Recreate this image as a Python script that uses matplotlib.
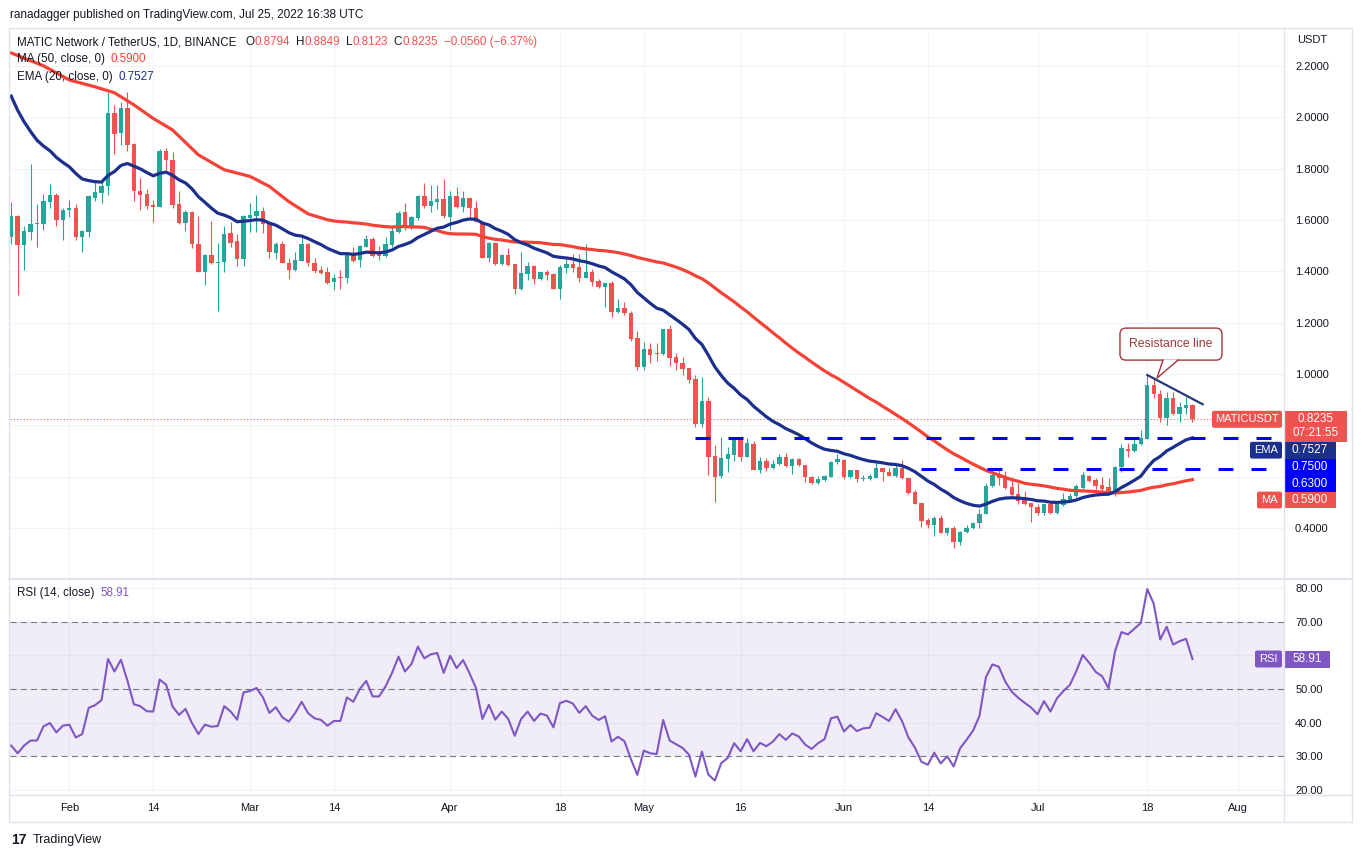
import datetime as dt
import numpy as np
import matplotlib
matplotlib.use("Agg")
import matplotlib.pyplot as plt
import matplotlib.dates as mdates
from matplotlib.patches import Rectangle, FancyBboxPatch, Polygon

W, H = 1362, 857
TXT = "#131722"
GREEN = "#26a69a"
RED = "#ef5350"
MA_COL = "#f44336"
EMA_COL = "#1b2f8c"
RSI_COL = "#7e57c2"
LVL_COL = "#0000ff"
GRID = "#f0f3fa"
BORDER = "#e0e3eb"

# ---- daily candles, MATIC/USDT (Jan 23 .. Jul 25, 2022)
start = dt.date(2022, 1, 23)
opens = [
    1.534, 1.614, 1.502, 1.553, 1.586, 1.583, 1.670, 1.696, 1.599,
    1.640, 1.646, 1.534, 1.553, 1.687, 1.706, 1.734, 2.018, 1.940, 2.036, 1.896, 1.713, 1.700, 1.657,
    1.651, 1.868, 1.833, 1.661, 1.588, 1.630, 1.507, 1.399, 1.462, 1.433, 1.436, 1.550, 1.518, 1.447,
    1.607, 1.616, 1.635, 1.587, 1.472, 1.506, 1.434, 1.407, 1.441, 1.506, 1.434, 1.407, 1.396, 1.358,
    1.377, 1.374, 1.467, 1.446, 1.495, 1.528, 1.469, 1.459, 1.502, 1.554, 1.630, 1.576, 1.607, 1.694,
    1.656, 1.672, 1.681,
    1.613, 1.694, 1.652, 1.685, 1.646, 1.591, 1.453, 1.510, 1.430, 1.464, 1.427, 1.331, 1.389, 1.422,
    1.370, 1.396, 1.389, 1.331, 1.414, 1.427, 1.417, 1.375, 1.396, 1.362, 1.340, 1.353, 1.243, 1.256,
    1.236, 1.139,
    1.028, 1.098, 1.079, 1.077, 1.174, 1.067, 1.044, 1.022, 0.979, 0.807, 0.893, 0.680, 0.602, 0.667,
    0.684, 0.745, 0.676, 0.729, 0.625, 0.660, 0.634, 0.649, 0.678, 0.641, 0.667, 0.647, 0.598, 0.576,
    0.587, 0.598, 0.657,
    0.663, 0.600, 0.624, 0.589, 0.592, 0.596, 0.632, 0.617, 0.604, 0.632, 0.596, 0.539, 0.497, 0.432,
    0.413, 0.439, 0.381, 0.400, 0.345, 0.385, 0.398, 0.419, 0.454, 0.562, 0.609, 0.596, 0.561, 0.532,
    0.514, 0.497,
    0.480, 0.458, 0.493, 0.458, 0.490, 0.506, 0.523, 0.557, 0.604, 0.588, 0.567, 0.558, 0.532, 0.637,
    0.709, 0.698, 0.726, 0.748, 0.957, 0.924, 0.829, 0.907, 0.846, 0.868, 0.8794,
]
highs = [
    1.669, 1.620, 1.575, 1.820, 1.664, 1.700, 1.739, 1.706, 1.648,
    1.677, 1.664, 1.562, 1.696, 1.755, 1.755, 2.099, 2.048, 2.061, 2.099, 1.901, 1.762, 1.722, 1.677,
    1.875, 1.879, 1.866, 1.713, 1.638, 1.634, 1.614, 1.468, 1.595, 1.511, 1.575, 1.593, 1.544, 1.620,
    1.665, 1.698, 1.650, 1.587, 1.515, 1.518, 1.454, 1.476, 1.544, 1.511, 1.454, 1.420, 1.417, 1.391,
    1.407, 1.472, 1.495, 1.502, 1.541, 1.535, 1.498, 1.535, 1.574, 1.637, 1.665, 1.616, 1.697, 1.746,
    1.737, 1.737, 1.759,
    1.713, 1.730, 1.713, 1.691, 1.674, 1.591, 1.516, 1.516, 1.466, 1.490, 1.427, 1.474, 1.435, 1.425,
    1.396, 1.405, 1.392, 1.425, 1.448, 1.466, 1.466, 1.505, 1.409, 1.370, 1.356, 1.362, 1.292, 1.282,
    1.245, 1.167,
    1.126, 1.122, 1.120, 1.177, 1.190, 1.080, 1.067, 1.022, 0.995, 0.989, 0.911, 0.722, 0.756, 0.716,
    0.752, 0.756, 0.752, 0.739, 0.676, 0.673, 0.664, 0.687, 0.693, 0.671, 0.673, 0.647, 0.602, 0.602,
    0.605, 0.660, 0.687,
    0.667, 0.624, 0.624, 0.606, 0.609, 0.656, 0.632, 0.635, 0.652, 0.665, 0.596, 0.548, 0.497, 0.439,
    0.445, 0.452, 0.403, 0.407, 0.387, 0.413, 0.423, 0.475, 0.574, 0.635, 0.626, 0.622, 0.600, 0.574,
    0.545, 0.497,
    0.493, 0.493, 0.497, 0.497, 0.536, 0.536, 0.570, 0.620, 0.607, 0.594, 0.597, 0.594, 0.641, 0.728,
    0.732, 0.750, 0.780, 0.996, 0.983, 0.937, 0.931, 0.931, 0.892, 0.911, 0.8849,
]
lows = [
    1.507, 1.306, 1.407, 1.524, 1.494, 1.560, 1.648, 1.577, 1.521,
    1.612, 1.521, 1.474, 1.534, 1.674, 1.666, 1.696, 1.857, 1.892, 1.870, 1.674, 1.640, 1.643, 1.592,
    1.651, 1.794, 1.648, 1.583, 1.557, 1.491, 1.399, 1.346, 1.430, 1.244, 1.399, 1.493, 1.421, 1.421,
    1.554, 1.554, 1.548, 1.454, 1.450, 1.433, 1.371, 1.401, 1.441, 1.420, 1.395, 1.390, 1.350, 1.326,
    1.330, 1.354, 1.437, 1.417, 1.493, 1.456, 1.443, 1.456, 1.495, 1.548, 1.561, 1.566, 1.600, 1.646,
    1.633, 1.642, 1.607,
    1.561, 1.646, 1.633, 1.607, 1.591, 1.453, 1.435, 1.425, 1.425, 1.422, 1.311, 1.327, 1.366, 1.349,
    1.366, 1.366, 1.331, 1.292, 1.395, 1.396, 1.357, 1.373, 1.343, 1.337, 1.262, 1.223, 1.236, 1.230,
    1.129, 1.014,
    1.015, 1.042, 1.052, 1.073, 1.031, 1.015, 0.997, 0.963, 0.793, 0.793, 0.606, 0.503, 0.594, 0.618,
    0.660, 0.660, 0.676, 0.625, 0.615, 0.622, 0.631, 0.644, 0.638, 0.612, 0.641, 0.579, 0.570, 0.573,
    0.583, 0.598, 0.648,
    0.592, 0.596, 0.579, 0.583, 0.587, 0.594, 0.583, 0.604, 0.600, 0.591, 0.532, 0.493, 0.404, 0.400,
    0.368, 0.381, 0.374, 0.323, 0.332, 0.381, 0.394, 0.400, 0.454, 0.561, 0.568, 0.552, 0.523, 0.493,
    0.488, 0.423,
    0.452, 0.452, 0.454, 0.456, 0.484, 0.501, 0.519, 0.550, 0.578, 0.552, 0.541, 0.532, 0.526, 0.617,
    0.676, 0.695, 0.722, 0.748, 0.905, 0.813, 0.800, 0.842, 0.813, 0.846, 0.8123,
]
closes = [
    1.614, 1.502, 1.556, 1.586, 1.588, 1.673, 1.696, 1.599, 1.638,
    1.646, 1.534, 1.557, 1.694, 1.708, 1.734, 2.018, 1.937, 2.036, 1.893, 1.713, 1.696, 1.653, 1.651,
    1.870, 1.833, 1.657, 1.588, 1.630, 1.505, 1.399, 1.462, 1.432, 1.438, 1.547, 1.511, 1.447, 1.616,
    1.620, 1.635, 1.583, 1.476, 1.506, 1.433, 1.407, 1.446, 1.506, 1.434, 1.401, 1.394, 1.354, 1.375,
    1.375, 1.469, 1.441, 1.498, 1.528, 1.460, 1.460, 1.506, 1.557, 1.629, 1.576, 1.613, 1.694, 1.656,
    1.675, 1.681, 1.616,
    1.694, 1.652, 1.685, 1.646, 1.591, 1.453, 1.510, 1.427, 1.464, 1.425, 1.331, 1.392, 1.422, 1.370,
    1.396, 1.386, 1.331, 1.418, 1.427, 1.414, 1.375, 1.396, 1.360, 1.340, 1.353, 1.243, 1.256, 1.236,
    1.136, 1.027,
    1.097, 1.075, 1.076, 1.174, 1.061, 1.041, 1.018, 0.976, 0.807, 0.893, 0.676, 0.598, 0.671, 0.687,
    0.745, 0.677, 0.732, 0.625, 0.660, 0.634, 0.651, 0.678, 0.641, 0.667, 0.647, 0.598, 0.576, 0.589,
    0.602, 0.658, 0.667,
    0.598, 0.624, 0.589, 0.595, 0.602, 0.632, 0.617, 0.604, 0.632, 0.596, 0.536, 0.493, 0.428, 0.413,
    0.439, 0.381, 0.400, 0.345, 0.385, 0.400, 0.419, 0.454, 0.565, 0.606, 0.594, 0.557, 0.529, 0.506,
    0.493, 0.480,
    0.458, 0.493, 0.458, 0.493, 0.514, 0.525, 0.564, 0.605, 0.584, 0.565, 0.552, 0.539, 0.637, 0.711,
    0.699, 0.728, 0.750, 0.957, 0.924, 0.829, 0.905, 0.846, 0.872, 0.878, 0.8235,
]
rsi_values = [
    33.2, 30.9, 33.2, 34.7, 34.7, 38.9, 39.9, 37.1, 39.1,
    39.4, 35.6, 36.6, 44.4, 45.2, 46.7, 58.9, 55.2, 58.7, 52.5, 45.5, 44.9, 43.4, 43.3,
    52.8, 51.3, 44.8, 42.3, 44.1, 39.9, 36.6, 39.4, 38.8, 39.0, 44.9, 43.3, 40.9, 49.0,
    49.4, 50.3, 47.5, 42.9, 44.6, 41.6, 40.3, 42.9, 46.2, 42.8, 41.3, 40.8, 39.1, 40.5,
    40.5, 47.5, 46.2, 50.0, 52.4, 47.8, 47.8, 50.8, 54.8, 59.6, 55.2, 57.4, 62.6, 59.1,
    60.3, 60.7, 54.8,
    59.9, 56.2, 58.6, 54.7, 50.3, 41.1, 45.3, 40.9, 43.3, 41.1, 36.1, 41.1, 43.3, 40.5,
    42.7, 42.1, 38.6, 45.8, 46.5, 45.7, 42.9, 44.9, 42.1, 40.8, 41.9, 34.4, 35.8, 34.5,
    29.2, 24.5,
    31.7, 30.9, 30.7, 40.8, 34.7, 33.6, 32.5, 30.5, 24.0, 31.4, 24.6, 22.8, 28.0, 29.5,
    33.9, 31.5, 35.1, 31.5, 34.0, 33.0, 34.4, 36.6, 34.9, 36.8, 35.9, 33.5, 32.2, 33.9,
    35.1, 41.3, 41.8,
    37.4, 39.3, 37.5, 38.3, 38.5, 42.8, 41.7, 40.5, 44.0, 40.5, 35.6, 32.6, 28.4, 27.5,
    31.1, 27.9, 30.0, 27.0, 32.4, 34.9, 37.6, 42.0, 53.5, 57.3, 56.6, 52.2, 49.2, 47.4,
    45.9, 44.5,
    42.5, 46.4, 43.3, 47.2, 49.4, 51.2, 55.3, 60.1, 57.8, 55.1, 53.8, 50.2, 61.2, 66.9,
    66.2, 67.9, 69.6, 79.7, 75.3, 64.7, 68.5, 63.2, 64.2, 64.9, 58.91,
]

# EMA(20) value on the first visible day, MA(50) before 50 visible closes exist
ema_seed = 2.083
ma_early_dates = ["2022-01-23", "2022-01-28", "2022-02-01", "2022-02-05", "2022-02-08",
                  "2022-02-11", "2022-02-14", "2022-02-17", "2022-02-21", "2022-02-25",
                  "2022-03-01", "2022-03-04", "2022-03-07", "2022-03-10"]
ma_early_values = [2.251, 2.201, 2.146, 2.119, 2.096, 2.049, 1.996, 1.951, 1.854, 1.796,
                   1.770, 1.731, 1.672, 1.624]

# drawings
support_levels = [0.75, 0.63]
support_starts = ["2022-05-09", "2022-06-13"]
resist_dates = ["2022-07-18", "2022-07-26 14:00"]
resist_prices = [0.996, 0.882]
note_date, note_price = "2022-07-19 12:00", 0.984

tick_dates = ["2022-02-01", "2022-02-14", "2022-03-01", "2022-03-14", "2022-04-01",
              "2022-04-18", "2022-05-01", "2022-05-16", "2022-06-01", "2022-06-14",
              "2022-07-01", "2022-07-18", "2022-08-01"]
tick_labels = ["Feb", "14", "Mar", "14", "Apr", "18", "May", "16", "Jun", "14", "Jul", "18", "Aug"]
price_ticks = [0.4, 0.6, 0.8, 1.0, 1.2, 1.4, 1.6, 1.8, 2.0, 2.2]
rsi_ticks = [20, 30, 40, 50, 60, 70, 80]

last_close_txt, countdown_txt = "0.8235", "07:21:55"
ema_txt, ma_txt, rsi_txt = "0.7527", "0.5900", "58.91"

plt.rcParams["font.family"] = ["Liberation Sans", "DejaVu Sans"]


def num(s):
    return mdates.date2num(dt.datetime.fromisoformat(s))


dates = [start + dt.timedelta(days=i) for i in range(len(closes))]
x = mdates.date2num(dates)
o, h, l, c = (np.array(v) for v in (opens, highs, lows, closes))

ema = np.empty(len(c))
ema[0] = ema_seed
for i in range(1, len(c)):
    ema[i] = ema[i - 1] + 2 / 21 * (c[i] - ema[i - 1])
ma_x = np.concatenate([[num(d) for d in ma_early_dates], x[49:]])
ma_y = np.concatenate([ma_early_values, np.convolve(c, np.ones(50) / 50, mode="valid")])

fig = plt.figure(figsize=(W / 100, H / 100), dpi=100)


def frame(x0, y0, x1, y1):
    return [x0 / W, 1 - y1 / H, (x1 - x0) / W, (y1 - y0) / H]


ax = fig.add_axes(frame(10, 30, 1284, 578))
axr = fig.add_axes(frame(10, 580, 1284, 795), sharex=ax)

feb1 = num("2022-02-01")
ax.set_xlim(feb1 + (10 - 69.3) / 6.455, feb1 + (1284 - 69.3) / 6.455)
ax.set_ylim(1 - (578 - 374) / 256.6, 1 + (374 - 30) / 256.6)
axr.set_ylim(20 - (795 - 790) / 3.367, 80 + (588 - 580) / 3.367)

for a in (ax, axr):
    for s in a.spines.values():
        s.set_visible(False)
    a.set_xticks([num(d) for d in tick_dates])
    a.grid(True, color=GRID, lw=0.8)
    a.set_axisbelow(True)
    a.yaxis.tick_right()
    a.tick_params(length=0, labelsize=8, labelcolor=TXT)
    a.tick_params(axis="y", pad=8)

ax.set_yticks(price_ticks)
ax.tick_params(axis="x", labelbottom=False)
axr.set_yticks(rsi_ticks)
axr.set_xticklabels(tick_labels)
axr.tick_params(axis="x", pad=6)

# candles
col = np.where(c >= o, GREEN, RED)
ax.vlines(x, l, h, colors=col, lw=0.8, zorder=3)
ax.bar(x, np.maximum(np.abs(c - o), 0.004), bottom=np.minimum(o, c), width=0.68,
       color=col, lw=0, zorder=4)

ax.plot(ma_x, ma_y, color=MA_COL, lw=2.3, zorder=5)
ax.plot(x, ema, color=EMA_COL, lw=2.3, zorder=5)
ax.axhline(c[-1], color=RED, lw=0.75, dashes=(1, 2.2), zorder=2)
for lvl, s in zip(support_levels, support_starts):
    ax.plot([num(s), ax.get_xlim()[1]], [lvl, lvl], color=LVL_COL, lw=2.2,
            dashes=(4.9, 5.9), zorder=6)
ax.plot([num(d) for d in resist_dates], resist_prices, color="#23397a", lw=1.6, zorder=7)

# RSI pane
axr.axhspan(30, 70, color=RSI_COL, alpha=0.1, lw=0)
for v in (30, 50, 70):
    axr.axhline(v, color="#787b86", lw=0.8, dashes=(5.5, 3.7))
axr.plot(x, rsi_values, color=RSI_COL, lw=1.5, zorder=4)

# overlay in pixel coordinates for the chart chrome
ov = fig.add_axes([0, 0, 1, 1], zorder=10)
ov.set_xlim(0, W)
ov.set_ylim(H, 0)
ov.axis("off")
ov.patch.set_alpha(0)

ov.add_patch(Rectangle((9, 28), 1343, 794, fill=False, ec=BORDER, lw=1))
ov.plot([1284, 1284], [28, 822], color=BORDER, lw=1)
ov.plot([9, 1352], [579, 579], color=BORDER, lw=1.5)
ov.plot([9, 1352], [795, 795], color=BORDER, lw=1)

fig.canvas.draw()
rend = fig.canvas.get_renderer()


def runs(x0, y0, parts, size=8.4):
    for item in parts:
        if isinstance(item, (int, float)):
            x0 += item
            continue
        s, colr = item
        t = ov.text(x0, y0, s, color=colr, fontsize=size, va="center", ha="left")
        x0 += t.get_window_extent(renderer=rend).width


ov.text(10, 15, "ranadagger published on TradingView.com, Jul 25, 2022 16:38 UTC",
        fontsize=8.5, color=TXT, va="center")
runs(17, 42, [("MATIC Network / TetherUS, 1D, BINANCE", TXT), 9,
              ("O", TXT), ("0.8794", RED), 6, ("H", TXT), ("0.8849", RED), 6,
              ("L", TXT), ("0.8123", RED), 6, ("C", TXT), ("0.8235", RED), 6,
              ("\u22120.0560 (\u22126.37%)", RED)])
runs(17, 59, [("MA (50, close, 0)", TXT), 6, (ma_txt, MA_COL)])
runs(17, 77, [("EMA (20, close, 0)", TXT), 6, (ema_txt, EMA_COL)])
runs(17, 593, [("RSI (14, close)", TXT), 6, (rsi_txt, RSI_COL)])
ov.text(1297, 40, "USDT", fontsize=8, color=TXT, va="center")
ov.text(11, 840, "17", fontsize=10, fontweight="heavy", color=TXT, va="center")
ov.text(33, 840, "TradingView", fontsize=9, color=TXT, va="center")


def ypx(a, v):
    return H - a.transData.transform((0, v))[1]


def tag(top, hgt, text, colr, width):
    ov.add_patch(FancyBboxPatch((1282 - width, top), width, hgt,
                                boxstyle="round,pad=0,rounding_size=2", fc=colr, ec="none"))
    ov.text(1282 - width / 2, top + hgt / 2, text, color="white", fontsize=8,
            ha="center", va="center")


def value_box(top, hgt, lines, colr, width=52):
    ov.add_patch(Rectangle((1284, top), width, hgt, fc=colr, ec="none"))
    for k, s in enumerate(lines):
        ov.text(1284 + width / 2, top + 8.5 + 14 * k, s, color="white", fontsize=8.5,
                ha="center", va="center")


# price scale labels, stacked so they do not overlap
labels = [
    (float(last_close_txt), 31, 8.5, [last_close_txt, countdown_txt], RED, 63, "MATICUSDT", 70),
    (float(ema_txt), 16.8, 8.4, [ema_txt], EMA_COL, 52, "EMA", 32),
    (support_levels[0], 16.5, 8.2, [f"{support_levels[0]:.4f}"], LVL_COL, 52, None, 0),
    (support_levels[1], 16.5, 8.2, [f"{support_levels[1]:.4f}"], LVL_COL, 52, None, 0),
    (float(ma_txt), 16.8, 8.4, [ma_txt], RED, 52, "MA", 25),
]
covered = []
prev = -1e9
for val, hgt, off, lines, colr, wid, name, tw in labels:
    top = max(ypx(ax, val) - off, prev)
    prev = top + hgt
    covered.append((top, prev))
    value_box(top, hgt, lines, colr, wid)
    if name:
        tag(top, 17 if hgt > 20 else hgt, name, colr, tw)

rtop = ypx(axr, float(rsi_txt)) - 8.5
value_box(rtop, 17, [rsi_txt], RSI_COL, 46)
tag(rtop, 17, "RSI", RSI_COL, 27)


def hidden(yp, spans):
    return any(t - 7 < yp < b + 7 for t, b in spans)


# scale values that sit under a label box are not shown
ax.set_yticklabels(["" if hidden(ypx(ax, v), covered) else f"{v:.4f}" for v in price_ticks])
axr.set_yticklabels(["" if hidden(ypx(axr, v), [(rtop, rtop + 17)]) else f"{v:.2f}"
                     for v in rsi_ticks])

# callout note
tx, ty = ax.transData.transform((num(note_date), note_price))
ty = H - ty
NOTE = "#a3363a"
ov.add_patch(FancyBboxPatch((tx - 37, ty - 50), 102, 32,
                            boxstyle="round,pad=0,rounding_size=6", fc="white", ec=NOTE, lw=1))
ov.add_patch(Polygon([(tx + 6.5, ty - 18.6), (tx, ty), (tx + 20.5, ty - 18.6)],
                     closed=True, fc="white", ec="none", zorder=3))
ov.plot([tx + 6, tx, tx + 21], [ty - 18, ty, ty - 18], color=NOTE, lw=1, zorder=4)
ov.text(tx + 14, ty - 34, "Resistance line", color=NOTE, fontsize=8.8, ha="center", va="center")

fig.savefig("out.png", dpi=100)
